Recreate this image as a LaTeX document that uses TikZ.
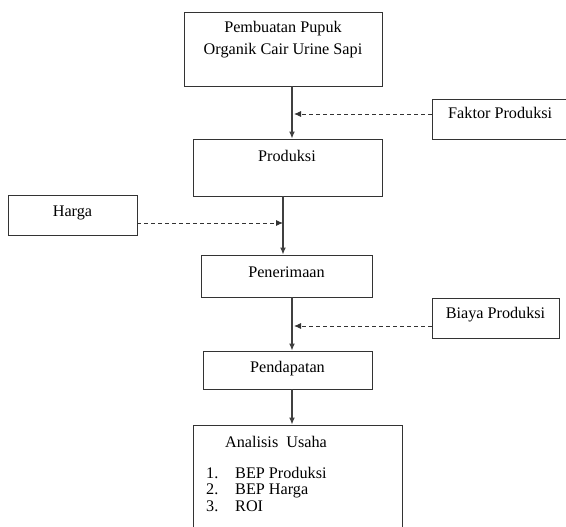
\documentclass[tikz,border=0pt]{standalone}
\usepackage{fontspec}
\setmainfont{Liberation Serif}
\usetikzlibrary{arrows.meta}
\tikzset{
  box/.style={draw=black!80, line width=0.9pt, inner sep=0pt, minimum width=#1},
  lbl/.style={inner sep=0pt, font=\fontsize{16.2}{19}\selectfont, anchor=base},
  flow/.style={draw=black!75, line width=1.3pt, -{Latex[length=7pt,width=6pt]}},
  feed/.style={draw=black!80, line width=0.9pt, dash pattern=on 4pt off 3pt, -{Latex[length=7pt,width=6pt]}}
}
\begin{document}
\begin{tikzpicture}[x=1pt,y=-1pt]
\useasboundingbox (0,0) rectangle (566,527);
\clip (0,0) rectangle (566,527);
% boxes
\node[box=198pt, minimum height=74pt] (pem) at (283,49) {};
\node[box=189pt, minimum height=57pt] (prod) at (287.5,167.5) {};
\node[box=171pt, minimum height=42pt] (pen) at (286.5,276) {};
\node[box=169pt, minimum height=38pt] (pend) at (287.5,370) {};
\node[box=209pt, minimum height=110pt] (anal) at (297.5,480) {};
\node[box=160pt, minimum height=40pt] (fak) at (512,119) {};
\node[box=129pt, minimum height=40pt] (har) at (72.5,215) {};
\node[box=127pt, minimum height=40pt] (bia) at (495.5,318) {};
% texts
\node[lbl] (t1) at (283,33) {Pembuatan Pupuk};
\node[lbl] (t2) at (283,55) {Organik Cair Urine Sapi};
\node[lbl] (t3) at (287,161) {Produksi};
\node[lbl] (t4) at (72.5,216) {Harga};
\node[lbl] (t5) at (286.5,277) {Penerimaan};
\node[lbl] (t6) at (287.5,372) {Pendapatan};
\node[lbl, anchor=base west] (t7) at (448,119) {Faktor Produksi};
\node[lbl] (t8) at (495.5,318) {Biaya Produksi};
\node[lbl, anchor=base west] (t9) at (225,447) {Analisis\ \ Usaha};
\node[lbl, anchor=base west] (n1) at (206,478) {1.};
\node[lbl, anchor=base west] (i1) at (235,478) {BEP Produksi};
\node[lbl, anchor=base west] (n2) at (206,494.5) {2.};
\node[lbl, anchor=base west] (i2) at (235,494.5) {BEP Harga};
\node[lbl, anchor=base west] (n3) at (206,511) {3.};
\node[lbl, anchor=base west] (i3) at (235,511) {ROI};
% connectors
\path[flow] (292,0 |- pem.south) -- (292,0 |- prod.north);
\path[flow] (283,0 |- prod.south) -- (283,0 |- pen.north);
\path[flow] (292,0 |- pen.south) -- (292,0 |- pend.north);
\path[flow] (292,0 |- pend.south) -- (292,0 |- anal.north);
\coordinate (e1) at (294,114);
\coordinate (e2) at (283,223);
\coordinate (e3) at (294,326);
\path[feed] (fak.west |- e1) -- (e1);
\path[feed] (har.east |- e2) -- (e2);
\path[feed] (bia.west |- e3) -- (e3);
\end{tikzpicture}
\end{document}
